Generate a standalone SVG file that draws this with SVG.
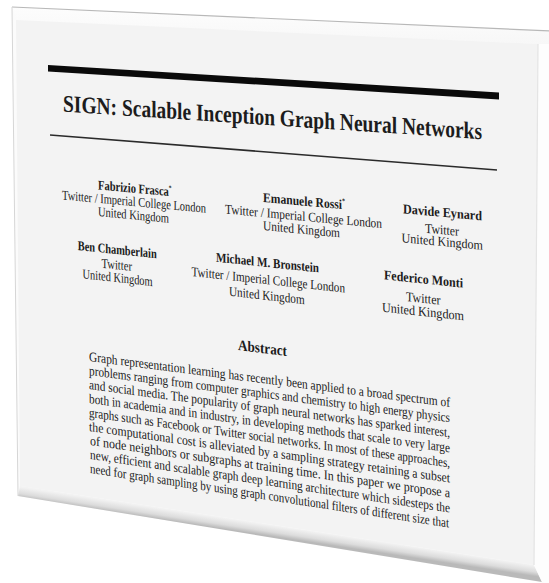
<svg xmlns="http://www.w3.org/2000/svg" width="549" height="583" viewBox="0 0 549 583">
  <defs>
    <linearGradient id="botBevel" gradientUnits="userSpaceOnUse" x1="0" y1="484" x2="0" y2="495" gradientTransform="skewY(8.65)">
      <stop offset="0" stop-color="#f2f2f2"/>
      <stop offset="0.6" stop-color="#dcdcdc"/>
      <stop offset="1" stop-color="#b9b9b9"/>
    </linearGradient>
    <linearGradient id="topBevel" x1="0" y1="0" x2="0" y2="1">
      <stop offset="0" stop-color="#fdfdfd"/>
      <stop offset="1" stop-color="#f7f7f7"/>
    </linearGradient>
    <style>
      .t{font-family:"Liberation Serif","Times New Roman",serif;fill:#1c1c1c}
      .b{font-weight:bold}
      .title{font-size:20.5px}
      .au{font-size:13.5px}
      .ab{font-size:13.5px}
      .abh{font-size:15px}
    </style>
  </defs>
  <rect width="549" height="583" fill="#ffffff"/>

  <g id="page">
    <polygon points="12,7 552,31 552,586 540,582 18,496" fill="#fbfbfb"/>
    <polygon points="20,486 534,565 542,582 18,496" fill="url(#botBevel)"/>
    <polygon points="12,7 552,31 552,44 538,44 16,20" fill="url(#topBevel)"/>
    <polygon points="538,44 552,44 552,586 542,582 534,565" fill="#fdfdfd"/>
    <polygon points="16,20 538,44 534,565 20,486" fill="#f3f3f3"/>
    <line x1="538" y1="44" x2="534" y2="565" stroke="#e4e4e4" stroke-width="1.2"/>
    <line x1="12" y1="7" x2="552" y2="31" stroke="#b8b8b8" stroke-width="1.2"/>
    <line x1="12" y1="7" x2="18" y2="496" stroke="#d6d6d6" stroke-width="1"/>
  </g>

  <g id="header">
    <polygon points="48,65 499,92.5 499,99.5 48,71.5" fill="#0a0a0a"/>
    <text class="t b title" transform="matrix(1 0.066 0 1.17 63 111.5)" textLength="419" lengthAdjust="spacingAndGlyphs">SIGN: Scalable Inception Graph Neural Networks</text>
    <line x1="50" y1="135" x2="497" y2="170" stroke="#2a2a2a" stroke-width="1.6"/>
  </g>

  <g id="authors">
    <text class="t b au" transform="matrix(1 0.09 0 1 98 189.5)" textLength="73.6" lengthAdjust="spacingAndGlyphs">Fabrizio Frasca<tspan font-size="7" dy="-6">*</tspan></text>
    <text class="t au" transform="matrix(1 0.092 0 1 62 199.5)" textLength="144" lengthAdjust="spacingAndGlyphs">Twitter / Imperial College London</text>
    <text class="t au" transform="matrix(1 0.096 0 1 98 216)" textLength="71" lengthAdjust="spacingAndGlyphs">United Kingdom</text>

    <text class="t b au" transform="matrix(1 0.089 0 1 263 202)" textLength="82" lengthAdjust="spacingAndGlyphs">Emanuele Rossi<tspan font-size="7" dy="-6">*</tspan></text>
    <text class="t au" transform="matrix(1 0.093 0 1 225 213.5)" textLength="157" lengthAdjust="spacingAndGlyphs">Twitter / Imperial College London</text>
    <text class="t au" transform="matrix(1 0.096 0 1 263 230)" textLength="77" lengthAdjust="spacingAndGlyphs">United Kingdom</text>

    <text class="t b au" transform="matrix(1 0.09 0 1 403 213.3)" textLength="79" lengthAdjust="spacingAndGlyphs">Davide Eynard</text>
    <text class="t au" transform="matrix(1 0.093 0 1 425 232.7)" textLength="34" lengthAdjust="spacingAndGlyphs">Twitter</text>
    <text class="t au" transform="matrix(1 0.092 0 1 401.6 242.3)" textLength="81.4" lengthAdjust="spacingAndGlyphs">United Kingdom</text>

    <text class="t b au" transform="matrix(1 0.105 0 1 77.7 250)" textLength="79" lengthAdjust="spacingAndGlyphs">Ben Chamberlain</text>
    <text class="t au" transform="matrix(1 0.108 0 1 101.5 267.7)" textLength="30.5" lengthAdjust="spacingAndGlyphs">Twitter</text>
    <text class="t au" transform="matrix(1 0.111 0 1 82.6 278.3)" textLength="70" lengthAdjust="spacingAndGlyphs">United Kingdom</text>

    <text class="t b au" transform="matrix(1 0.104 0 1 216 261.7)" textLength="103" lengthAdjust="spacingAndGlyphs">Michael M. Bronstein</text>
    <text class="t au" transform="matrix(1 0.108 0 1 191.5 276)" textLength="153.5" lengthAdjust="spacingAndGlyphs">Twitter / Imperial College London</text>
    <text class="t au" transform="matrix(1 0.112 0 1 229 295.7)" textLength="75.6" lengthAdjust="spacingAndGlyphs">United Kingdom</text>

    <text class="t b au" transform="matrix(1 0.106 0 1 384 279.3)" textLength="79" lengthAdjust="spacingAndGlyphs">Federico Monti</text>
    <text class="t au" transform="matrix(1 0.108 0 1 406 301)" textLength="34.5" lengthAdjust="spacingAndGlyphs">Twitter</text>
    <text class="t au" transform="matrix(1 0.105 0 1 382 311.7)" textLength="82" lengthAdjust="spacingAndGlyphs">United Kingdom</text>
  </g>

  <g id="abstract">
    <text class="t b abh" transform="matrix(1 0.124 0 1 238 350)" textLength="49" lengthAdjust="spacingAndGlyphs">Abstract</text>
    <text class="t ab" transform="matrix(1 0.1274 0 1 89 361)" textLength="361" lengthAdjust="spacingAndGlyphs">Graph representation learning has recently been applied to a broad spectrum of</text>
    <text class="t ab" transform="matrix(1 0.1305 0 1 89 375)" textLength="361" lengthAdjust="spacingAndGlyphs">problems ranging from computer graphics and chemistry to high energy physics</text>
    <text class="t ab" transform="matrix(1 0.1335 0 1 89 389)" textLength="361" lengthAdjust="spacingAndGlyphs">and social media. The popularity of graph neural networks has sparked interest,</text>
    <text class="t ab" transform="matrix(1 0.1366 0 1 89 403)" textLength="361" lengthAdjust="spacingAndGlyphs">both in academia and in industry, in developing methods that scale to very large</text>
    <text class="t ab" transform="matrix(1 0.1396 0 1 89 417)" textLength="361" lengthAdjust="spacingAndGlyphs">graphs such as Facebook or Twitter social networks. In most of these approaches,</text>
    <text class="t ab" transform="matrix(1 0.1427 0 1 89 431)" textLength="361" lengthAdjust="spacingAndGlyphs">the computational cost is alleviated by a sampling strategy retaining a subset</text>
    <text class="t ab" transform="matrix(1 0.1457 0 1 90 445)" textLength="360" lengthAdjust="spacingAndGlyphs">of node neighbors or subgraphs at training time. In this paper we propose a</text>
    <text class="t ab" transform="matrix(1 0.1488 0 1 90 459)" textLength="360" lengthAdjust="spacingAndGlyphs">new, efficient and scalable graph deep learning architecture which sidesteps the</text>
    <text class="t ab" transform="matrix(1 0.1518 0 1 90 473)" textLength="359" lengthAdjust="spacingAndGlyphs">need for graph sampling by using graph convolutional filters of different size that</text>
  </g>
</svg>
